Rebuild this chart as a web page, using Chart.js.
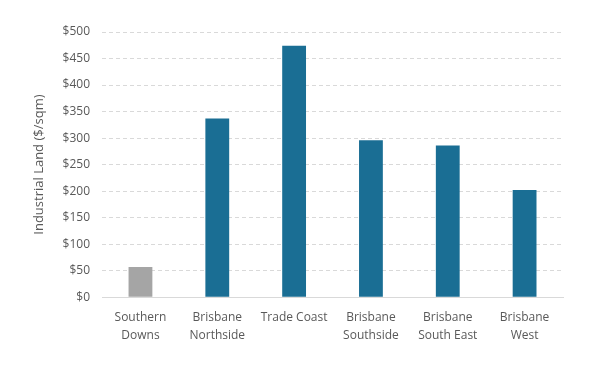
<!DOCTYPE html>
<html><head><meta charset="utf-8">
<script src="https://cdn.jsdelivr.net/npm/chart.js@4"></script>
<style>html,body{margin:0;padding:0;background:#fff}#wrap{width:600px;height:370px}</style>
</head><body><div id="wrap"><canvas id="c"></canvas></div>
<script>
const categories = [["Southern","Downs"],["Brisbane","Northside"],"Trade Coast",["Brisbane","Southside"],["Brisbane","South East"],["Brisbane","West"]];
const values = [57, 337, 474, 296, 286, 202];
const barColors = ["#a5a5a5","#1a6e94","#1a6e94","#1a6e94","#1a6e94","#1a6e94"];
const yTicks = [0,50,100,150,200,250,300,350,400,450,500];
const yTitle = "Industrial Land ($/sqm)";

new Chart(document.getElementById('c'), {
  type: 'bar',
  data: { labels: categories, datasets: [{ data: values, backgroundColor: barColors, categoryPercentage: 1, barPercentage: 0.31 }] },
  options: {
    responsive: true, maintainAspectRatio: false, animation: false,
    layout: { padding: { left: 27, right: 37, top: 32, bottom: 14 } },
    plugins: { legend: { display: false }, tooltip: { enabled: false } },
    scales: {
      x: {
        grid: { display: false, drawTicks: false },
        border: { color: '#d9d9d9' },
        ticks: { color: '#595959', font: { family: 'Open Sans', size: 12, lineHeight: 1.45 }, padding: 12, maxRotation: 0 }
      },
      y: {
        min: 0, max: 500,
        afterBuildTicks: s => { s.ticks = yTicks.map(v => ({ value: v })); },
        grid: { color: '#d9d9d9', drawTicks: false },
        border: { display: false, dash: [4,3] },
        ticks: { color: '#595959', font: { family: 'Open Sans', size: 12 }, padding: 12, callback: v => '$' + v },
        title: { display: true, text: yTitle, color: '#595959', font: { family: 'Open Sans', size: 13 }, padding: { bottom: 4 } }
      }
    }
  }
});
</script></body></html>
